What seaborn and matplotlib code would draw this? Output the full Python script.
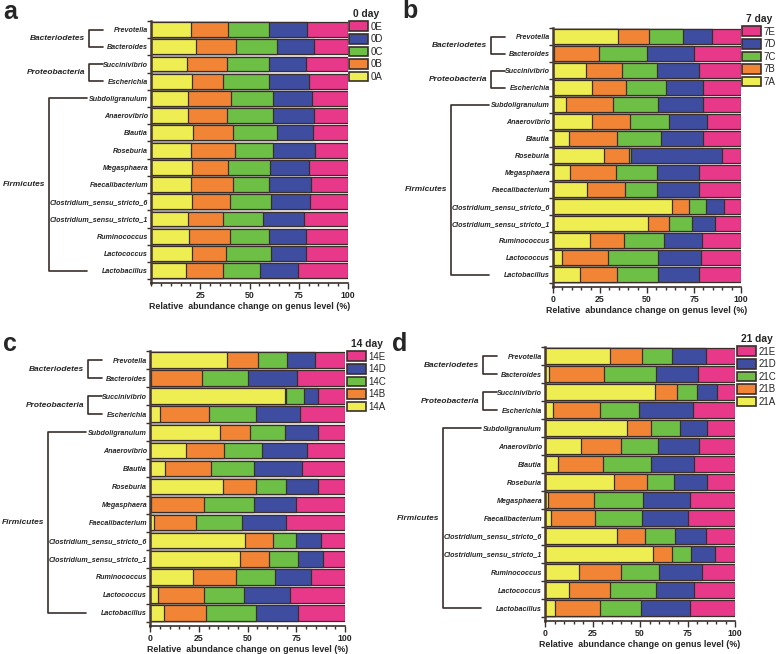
import matplotlib
matplotlib.use('Agg')
import matplotlib.pyplot as plt
from matplotlib.patches import Patch
from matplotlib.ticker import FixedLocator, MultipleLocator
import numpy as np
import pandas as pd
import seaborn as sns

# genus rows (top to bottom) and their phylum brackets
genera = ['Prevotella', 'Bacteroides', 'Succinivibrio', 'Escherichia',
          'Subdoligranulum', 'Anaerovibrio', 'Blautia', 'Roseburia',
          'Megasphaera', 'Faecalibacterium', 'Clostridium_sensu_stricto_6',
          'Clostridium_sensu_stricto_1', 'Ruminococcus', 'Lactococcus',
          'Lactobacillus']
phyla = [('Bacteriodetes', 0, 1), ('Proteobacteria', 2, 3), ('Firmicutes', 4, 14)]
groups = ['A', 'B', 'C', 'D', 'E']
colors = {'A': '#EEEE52', 'B': '#F28535', 'C': '#6DBF45', 'D': '#3E4DA0', 'E': '#E8388A'}

# relative abundance (%) of each group
day0_A = [20.3, 22.7, 18.5, 21.0, 18.6, 18.6, 21.5, 20.3, 20.7, 20.2, 20.7, 18.6, 19.3, 21.0, 17.6]
day0_B = [19.0, 20.2, 20.0, 15.3, 22.1, 19.9, 19.9, 22.1, 18.6, 21.2, 19.5, 17.8, 20.9, 17.0, 19.2]
day0_C = [20.4, 21.3, 21.2, 23.4, 21.2, 23.4, 22.5, 19.5, 20.9, 18.3, 20.8, 20.7, 19.5, 22.8, 18.3]
day0_D = [19.5, 18.3, 19.1, 20.3, 19.8, 21.0, 18.1, 21.5, 20.1, 21.5, 19.8, 20.7, 19.1, 18.0, 19.5]
day0_E = [20.8, 17.5, 21.2, 20.0, 18.3, 17.1, 18.0, 16.6, 19.7, 18.8, 19.2, 22.2, 21.2, 21.2, 25.4]

day7_A = [34.7, 0.5, 17.3, 20.8, 7.1, 20.8, 8.4, 27.0, 9.3, 18.1, 63.5, 50.4, 19.6, 4.8, 14.6]
day7_B = [16.5, 24.1, 19.2, 17.8, 24.9, 20.1, 25.9, 13.4, 24.0, 20.2, 8.9, 11.3, 18.3, 24.6, 19.7]
day7_C = [18.2, 25.2, 18.7, 21.4, 23.7, 21.0, 23.2, 0.9, 21.9, 16.9, 9.1, 12.1, 21.4, 26.6, 21.7]
day7_D = [15.1, 25.3, 22.7, 20.0, 24.3, 20.0, 22.5, 48.6, 22.2, 22.7, 9.2, 12.5, 20.2, 22.8, 21.4]
day7_E = [15.5, 24.9, 22.1, 20.0, 20.0, 18.1, 20.0, 10.1, 22.6, 22.1, 9.3, 13.7, 20.5, 21.2, 22.6]

day14_A = [39.4, 0.5, 69.3, 5.3, 35.7, 18.4, 7.5, 37.2, 0.5, 1.9, 48.5, 46.2, 22.0, 3.9, 7.0]
day14_B = [15.9, 26.1, 0.3, 25.2, 15.7, 19.3, 23.7, 17.2, 27.3, 21.8, 14.5, 14.6, 22.0, 23.6, 21.7]
day14_C = [15.2, 23.9, 9.2, 23.9, 17.9, 19.6, 21.9, 15.2, 25.3, 23.7, 11.9, 15.0, 20.2, 20.5, 25.6]
day14_D = [14.1, 24.8, 7.5, 22.6, 17.0, 23.1, 24.7, 16.7, 21.6, 22.4, 12.8, 12.8, 18.2, 23.8, 21.5]
day14_E = [15.4, 24.7, 13.7, 23.0, 13.7, 19.6, 22.2, 13.7, 25.3, 30.2, 12.3, 11.4, 17.6, 28.2, 24.2]

day21_A = [34.3, 2.3, 58.0, 4.2, 43.4, 18.9, 6.7, 36.4, 1.4, 3.2, 37.8, 57.1, 18.0, 12.8, 5.4]
day21_B = [16.7, 28.5, 11.4, 24.5, 12.5, 21.0, 23.6, 17.5, 24.5, 22.9, 14.9, 9.6, 22.1, 21.5, 23.7]
day21_C = [15.7, 27.5, 10.5, 21.0, 14.9, 19.5, 25.6, 14.2, 25.9, 24.9, 15.8, 10.2, 20.1, 24.0, 21.3]
day21_D = [17.9, 22.4, 10.5, 28.4, 14.7, 21.9, 22.7, 17.0, 24.6, 24.0, 16.1, 12.6, 22.6, 20.2, 26.0]
day21_E = [15.4, 19.3, 9.6, 21.9, 14.5, 18.7, 21.4, 14.9, 23.6, 25.0, 15.4, 10.5, 17.2, 21.5, 23.6]

sns.set_theme(style='ticks')
plt.rcParams['font.family'] = ['Liberation Sans', 'DejaVu Sans']
plt.rcParams['font.weight'] = 'bold'

W, H = 778, 654
fig = plt.figure(figsize=(W / 100, H / 100), dpi=100)
edge = '#3a2e2a'


def rect(left, right, top, bottom):
    # pixel box -> figure fraction
    return [left / W, 1 - bottom / H, (right - left) / W, (bottom - top) / H]


def draw_panel(ax, day, segs, show_zero):
    df = pd.DataFrame({g: s for g, s in zip(groups, segs)})
    cum = df[groups].cumsum(axis=1)
    # draw cumulative bars from the rightmost group back to the first
    for g in groups[::-1]:
        d = pd.DataFrame({'genus': genera, 'x': cum[g]})
        sns.barplot(data=d, x='x', y='genus', order=genera, orient='h',
                    color=colors[g], saturation=1, width=0.86,
                    edgecolor=edge, linewidth=0.9, errorbar=None, ax=ax)
    ax.set_xlim(0, 100)
    ax.set_ylim(14.72, -0.5)
    ax.set_xlabel('Relative  abundance change on genus level (%)',
                  fontsize=6.4, fontweight='bold', labelpad=1.5)
    ax.set_ylabel('')
    ticks = [0, 25, 50, 75, 100] if show_zero else [25, 50, 75, 100]
    ax.set_xticks(ticks)
    ax.set_xticklabels([str(t) for t in ticks], fontsize=6.3, fontweight='bold')
    ax.xaxis.set_minor_locator(MultipleLocator(5))
    ax.set_yticks(range(len(genera)))
    ax.set_yticklabels(genera, fontsize=5.1, fontweight='bold', fontstyle='italic')
    ax.yaxis.set_minor_locator(FixedLocator(np.arange(-0.5, 15, 1)))
    ax.tick_params(axis='y', which='major', length=0, pad=2)
    ax.tick_params(axis='y', which='minor', length=3, width=1, color=edge)
    ax.tick_params(axis='x', which='major', length=4, width=1, color=edge, pad=1.5)
    ax.tick_params(axis='x', which='minor', length=2.5, width=1, color=edge)
    sns.despine(ax=ax)
    ax.spines['left'].set_color('#4a3a30')
    ax.spines['left'].set_linewidth(1.8)
    ax.spines['bottom'].set_color(edge)
    ax.spines['bottom'].set_linewidth(1.2)

    # phylum brackets left of the genus names
    wpx = ax.get_position().width * W
    tr = ax.get_yaxis_transform()
    for name, r0, r1 in phyla:
        if r1 - r0 > 1:
            xv, xe, xt = -102, -64, -106
        else:
            xv, xe, xt = -62, -48, -66
        xv, xe, xt = xv / wpx, xe / wpx, xt / wpx
        ax.plot([xe, xv, xv, xe], [r0, r0, r1, r1], transform=tr, clip_on=False,
                color='#3a2e2a', lw=1.2)
        ax.text(xt, (r0 + r1) / 2, name, transform=tr, ha='right', va='center',
                fontsize=6.0, fontweight='bold', fontstyle='italic')

    handles = [Patch(facecolor=colors[g], edgecolor=edge, linewidth=1.2) for g in groups[::-1]]
    labels = [f'{day}{g}' for g in groups[::-1]]
    return handles, labels


panels = [
    ('a', '0', [day0_A, day0_B, day0_C, day0_D, day0_E], rect(151, 348, 21, 283),
     (349, 9), (3, 19), False),
    ('b', '7', [day7_A, day7_B, day7_C, day7_D, day7_E], rect(553, 741, 28, 287),
     (742, 14), (402, 18), True),
    ('c', '14', [day14_A, day14_B, day14_C, day14_D, day14_E], rect(150, 345, 351, 626),
     (347, 339), (3, 351), True),
    ('d', '21', [day21_A, day21_B, day21_C, day21_D, day21_E], rect(545, 735, 347, 621),
     (737, 334), (392, 351), True),
]

for letter, day, segs, box, leg_xy, let_xy, show_zero in panels:
    ax = fig.add_axes(box)
    handles, labels = draw_panel(ax, day, segs, show_zero)
    leg = fig.legend(handles, labels, title=f'{day} day', loc='upper left',
                     bbox_to_anchor=(leg_xy[0] / W, 1 - leg_xy[1] / H),
                     bbox_transform=fig.transFigure, frameon=False, borderpad=0,
                     borderaxespad=0, handlelength=2.0, handleheight=1.15,
                     handletextpad=0.2, labelspacing=0.25,
                     prop={'size': 7, 'weight': 'normal'},
                     title_fontproperties={'size': 7.4, 'weight': 'bold'})
    fig.text(let_xy[0] / W, 1 - let_xy[1] / H, letter, fontsize=18, fontweight='bold',
             va='baseline', ha='left')

fig.savefig('out.png', dpi=100)
